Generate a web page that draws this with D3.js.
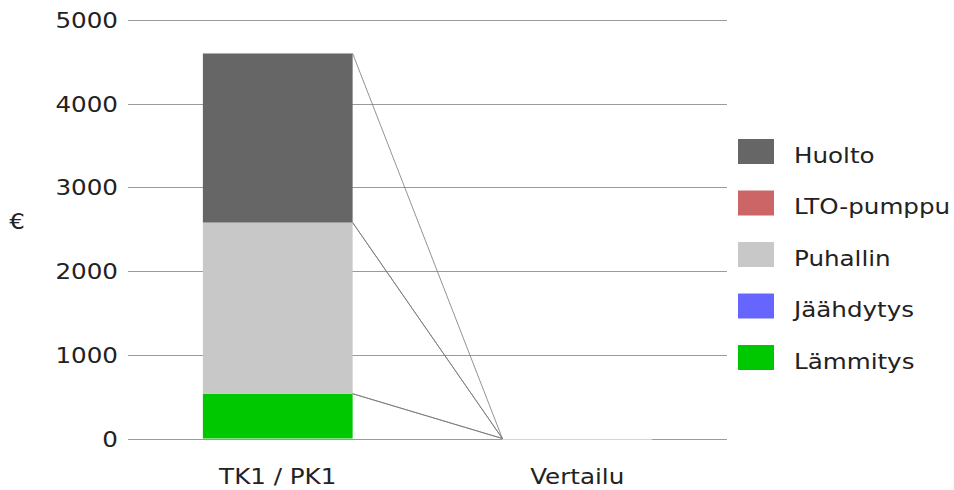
<!DOCTYPE html>
<html>
<head>
<meta charset="utf-8">
<script src="https://cdn.jsdelivr.net/npm/d3@7"></script>
<style>
  html, body { margin: 0; padding: 0; background: #fff; }
  svg text { font-family: "DejaVu Sans", Verdana, sans-serif; fill: #222; }
</style>
</head>
<body>
<svg id="chart" width="954" height="490"></svg>
<script>
// Categories (x axis)
const categories = ["TK1 / PK1", "Vertailu"];
// Series in stacking order (bottom to top)
const seriesNames = ["Lämmitys", "Jäähdytys", "Puhallin", "LTO-pumppu", "Huolto"];
const seriesColors = ["#00c800", "#6666ff", "#c8c8c8", "#cc6666", "#666666"];
// Values per series, one per category (€)
const lammitys   = [535, 0];
const jaahdytys  = [0, 0];
const puhallin   = [2045, 0];
const ltoPumppu  = [0, 0];
const huolto     = [2020, 0];
const yTicks = [0, 1000, 2000, 3000, 4000, 5000];
const yLabel = "€";

const seriesValues = [lammitys, jaahdytys, puhallin, ltoPumppu, huolto];
const rows = categories.map((c, i) => {
  const r = { category: c };
  seriesNames.forEach((s, j) => r[s] = seriesValues[j][i]);
  return r;
});

const svg = d3.select("#chart");
const margin = { left: 128, right: 227, top: 20, bottom: 51.5 };
const W = 954, H = 490;
const FS = 20.5, SX = 1.2; // label font size and horizontal stretch

const x = d3.scaleBand().domain(categories)
  .range([margin.left, W - margin.right]).paddingInner(0.5).paddingOuter(0.25);
const y = d3.scaleLinear().domain([0, 5000]).range([H - margin.bottom, margin.top]);

const stack = d3.stack().keys(seriesNames)(rows);

// Place a label at (px, py), widened horizontally
function label(sel, px, py, anchor) {
  return sel.attr("transform", (d, i) => {
    const a = typeof px === "function" ? px(d, i) : px;
    const b = typeof py === "function" ? py(d, i) : py;
    return `translate(${a},${b}) scale(${SX},1)`;
  })
  .attr("x", 0).attr("y", 0)
  .attr("text-anchor", anchor)
  .attr("font-size", FS);
}

// Gridlines
svg.append("g").selectAll("line").data(yTicks).join("line")
  .attr("x1", margin.left).attr("x2", W - margin.right)
  .attr("y1", d => Math.round(y(d)) + 0.5).attr("y2", d => Math.round(y(d)) + 0.5)
  .attr("stroke", "#9a9a9a").attr("stroke-width", 1);

// Y axis tick labels
const yAxis = d3.axisLeft(y).tickValues(yTicks).tickSize(0).tickPadding(10).tickFormat(d3.format("d"));
const gy = svg.append("g").attr("transform", `translate(${margin.left},0)`).call(yAxis);
gy.select(".domain").remove();
gy.selectAll(".tick text")
  .attr("font-family", null).attr("dy", null)
  .call(label, -10, 7.5, "end");

// Stacked bars
svg.append("g").selectAll("g").data(stack).join("g")
  .attr("fill", (d, i) => seriesColors[i])
  .selectAll("rect").data(d => d).join("rect")
  .attr("x", d => x(d.data.category))
  .attr("width", x.bandwidth())
  .attr("y", d => y(d[1]))
  .attr("height", d => Math.max(0, y(d[0]) - y(d[1])));

// Zero-height bar at the baseline for the second category
svg.append("line")
  .attr("x1", x(categories[1])).attr("x2", x(categories[1]) + x.bandwidth())
  .attr("y1", Math.round(y(0)) + 0.5).attr("y2", Math.round(y(0)) + 0.5)
  .attr("stroke", "#d4d4d4").attr("stroke-width", 1);

// Connector lines between stack tops of adjacent bars
svg.append("g").selectAll("line").data(stack).join("line")
  .attr("x1", x(categories[0]) + x.bandwidth())
  .attr("y1", d => y(d[0][1]))
  .attr("x2", x(categories[1]))
  .attr("y2", d => y(d[1][1]))
  .attr("stroke", "#777").attr("stroke-width", 0.8);

// X axis labels
svg.append("g").selectAll("text").data(categories).join("text")
  .call(label, d => x(d) + x.bandwidth() / 2, 484, "middle")
  .text(d => d);

// Y axis title
svg.append("text").call(label, 17, 229, "middle").text(yLabel);

// Legend (top series first)
const legendItems = seriesNames.map((s, i) => ({ name: s, color: seriesColors[i] })).reverse();
const lg = svg.append("g").selectAll("g").data(legendItems).join("g")
  .attr("transform", (d, i) => `translate(738,${139 + i * 51.5})`);
lg.append("rect").attr("width", 36).attr("height", 25).attr("fill", d => d.color);
lg.append("text").call(label, 56, 23.5, "start").text(d => d.name);
</script>
</body>
</html>
